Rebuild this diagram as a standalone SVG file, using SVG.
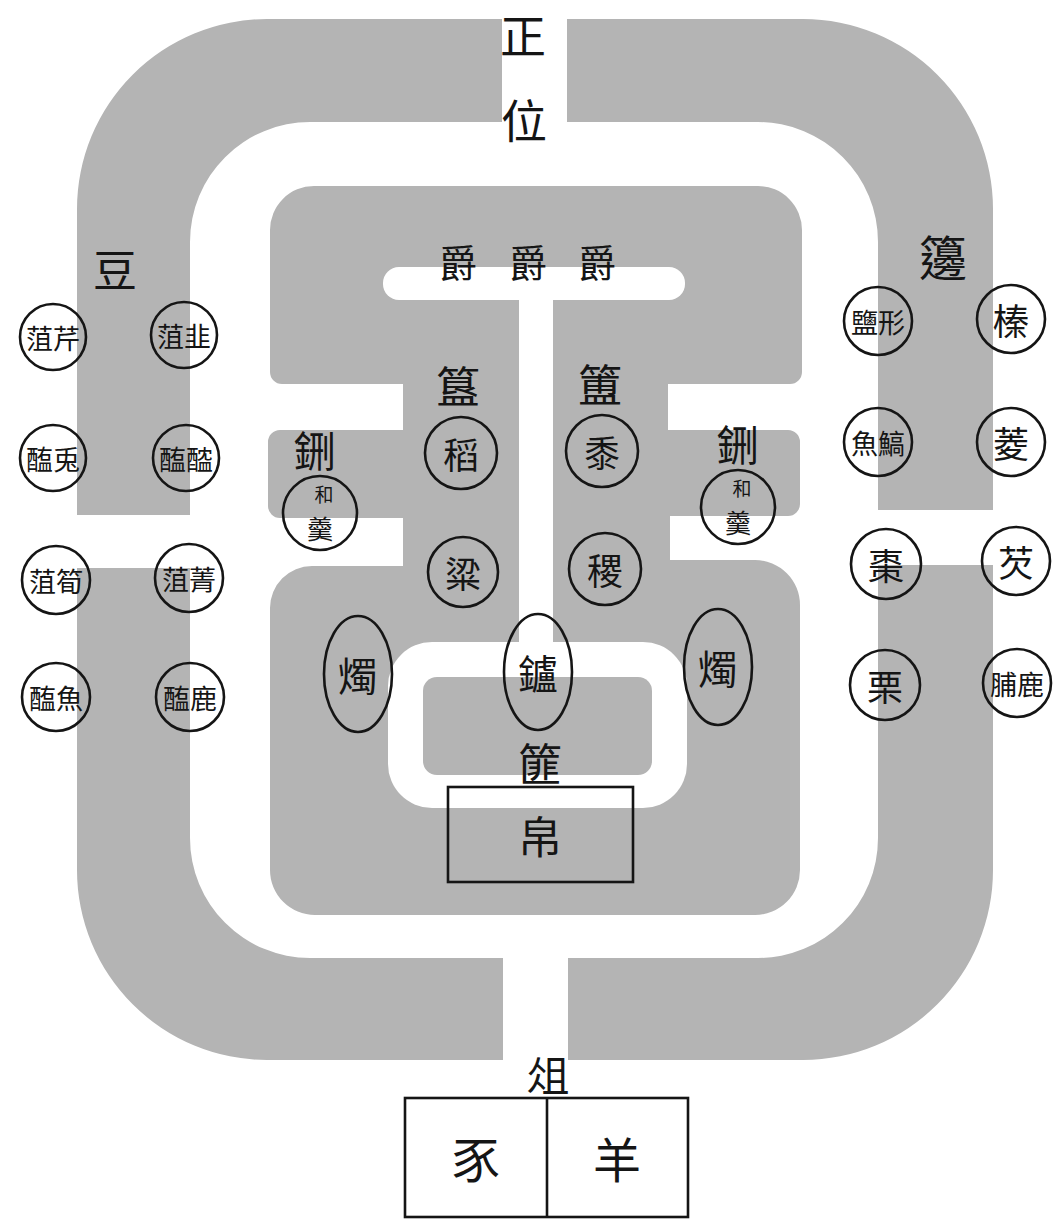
<svg xmlns="http://www.w3.org/2000/svg" width="1056" height="1221" viewBox="0 0 1056 1221">
<style>
.g{fill:#b4b4b4;stroke:none}
.w{fill:#ffffff;stroke:none}
.c{fill:none;stroke:#151515;stroke-width:2.6}
.t{font-family:'Noto Sans CJK TC','Noto Sans CJK SC','Noto Sans CJK JP',sans-serif;fill:#151515;text-anchor:middle;dominant-baseline:central}
.s2{font-size:27px}
.s1{font-size:36px}
.lb{font-size:44px}
</style>
<rect x="0" y="0" width="1056" height="1221" fill="#ffffff"/>
<g id="plan">
  <path class="g" d="M502,19 L267,19 A190,190 0 0 0 77,209 L77,515 L190,515 L190,242 A120,120 0 0 1 310,122 L502,122 Z"/>
  <path class="g" d="M567,19 L803,19 A190,190 0 0 1 993,209 L993,510 L878,510 L878,242 A120,120 0 0 0 758,122 L567,122 Z"/>
  <path class="g" d="M77,568 L77,870 A190,190 0 0 0 267,1060 L503,1060 L503,958 L310,958 A120,120 0 0 1 190,838 L190,568 Z"/>
  <path class="g" d="M993,565 L993,870 A190,190 0 0 1 803,1060 L568,1060 L568,958 L758,958 A120,120 0 0 0 878,838 L878,565 Z"/>
  <path class="g" d="M270,230 A44,44 0 0 1 314,186 L758,186 A44,44 0 0 1 802,230 L802,372 A12,12 0 0 1 790,384 L668,384 L668,430 L788,430 A12,12 0 0 1 800,442 L800,504 A12,12 0 0 1 788,516 L670,516 L670,560 L755,560 A45,45 0 0 1 800,605 L800,870 A45,45 0 0 1 755,915 L315,915 A45,45 0 0 1 270,870 L270,608 A42,42 0 0 1 312,566 L403,566 L403,518 L280,518 A12,12 0 0 1 268,506 L268,442 A12,12 0 0 1 280,430 L403,430 L403,384 L282,384 A12,12 0 0 1 270,372 Z"/>
  <rect class="w" x="383" y="267" width="302" height="33" rx="16"/>
  <rect class="w" x="519" y="290" width="34" height="360"/>
  <rect class="w" x="388" y="642" width="299" height="166" rx="44"/>
  <rect class="g" x="423" y="677" width="229" height="98" rx="14"/>
</g>
<g id="title">
  <text class="t" x="523" y="33" font-size="46">正</text>
  <text class="t" x="524" y="118" font-size="46">位</text>
</g>
<g id="jue">
  <text class="t" x="458" y="260" font-size="38">爵</text>
  <text class="t" x="528" y="260" font-size="38">爵</text>
  <text class="t" x="597" y="260" font-size="38">爵</text>
</g>
<g id="dou">
  <text class="t lb" x="115" y="268">豆</text>
  <g id="dou1"><circle class="c" cx="53" cy="337" r="33"/><text class="t s2" x="53" y="337">菹芹</text></g>
  <g id="dou2"><circle class="c" cx="184" cy="335" r="33"/><text class="t s2" x="184" y="335">菹韭</text></g>
  <g id="dou3"><circle class="c" cx="53" cy="458" r="33"/><text class="t s2" x="53" y="458">醢兎</text></g>
  <g id="dou4"><circle class="c" cx="186" cy="458" r="33"/><text class="t s2" x="186" y="458">醢醓</text></g>
  <g id="dou5"><circle class="c" cx="56" cy="580" r="34"/><text class="t s2" x="56" y="580">菹筍</text></g>
  <g id="dou6"><circle class="c" cx="189" cy="578" r="34"/><text class="t s2" x="189" y="578">菹菁</text></g>
  <g id="dou7"><circle class="c" cx="56" cy="697" r="34"/><text class="t s2" x="56" y="697">醢魚</text></g>
  <g id="dou8"><circle class="c" cx="190" cy="697" r="34"/><text class="t s2" x="190" y="697">醢鹿</text></g>
</g>
<g id="bian">
  <text class="t" x="943" y="255" font-size="48">籩</text>
  <g id="bian1"><circle class="c" cx="878" cy="321" r="34"/><text class="t s2" x="878" y="321">鹽形</text></g>
  <g id="bian2"><circle class="c" cx="1011" cy="319" r="34"/><text class="t s1" x="1011" y="319">榛</text></g>
  <g id="bian3"><circle class="c" cx="878" cy="442" r="34"/><text class="t s2" x="878" y="442">魚鰝</text></g>
  <g id="bian4"><circle class="c" cx="1011" cy="442" r="34"/><text class="t s1" x="1011" y="442">菱</text></g>
  <g id="bian5"><circle class="c" cx="886" cy="564" r="35"/><text class="t s1" x="886" y="564">棗</text></g>
  <g id="bian6"><circle class="c" cx="1016" cy="561" r="34"/><text class="t s1" x="1016" y="561">芡</text></g>
  <g id="bian7"><circle class="c" cx="885" cy="685" r="35"/><text class="t s1" x="885" y="685">栗</text></g>
  <g id="bian8"><circle class="c" cx="1017" cy="683" r="34"/><text class="t s2" x="1017" y="683">脯鹿</text></g>
</g>
<g id="gui">
  <text class="t lb" x="458" y="385">簋</text>
  <g id="dao"><circle class="c" cx="461" cy="453" r="36"/><text class="t s1" x="461" y="453">稻</text></g>
  <g id="liang"><circle class="c" cx="463" cy="572" r="35"/><text class="t s1" x="463" y="572">粱</text></g>
</g>
<g id="fu">
  <text class="t lb" x="600" y="383">簠</text>
  <g id="shu"><circle class="c" cx="602" cy="451" r="36"/><text class="t s1" x="602" y="451">黍</text></g>
  <g id="ji"><circle class="c" cx="605" cy="569" r="36"/><text class="t s1" x="605" y="569">稷</text></g>
</g>
<g id="xing-left">
  <text class="t" x="315" y="448" font-size="42">鉶</text>
  <circle class="c" cx="320" cy="513" r="37"/>
  <text class="t" x="324" y="493" font-size="19">和</text>
  <text class="t" x="320" y="527" font-size="26">羹</text>
</g>
<g id="xing-right">
  <text class="t" x="738" y="442" font-size="42">鉶</text>
  <circle class="c" cx="738" cy="507" r="37"/>
  <text class="t" x="742" y="487" font-size="19">和</text>
  <text class="t" x="738" y="521" font-size="26">羹</text>
</g>
<g id="zhu-left"><ellipse class="c" cx="358" cy="674" rx="34" ry="58"/><text class="t" x="358" y="674" font-size="40">燭</text></g>
<g id="lu"><ellipse class="c" cx="538" cy="672" rx="34" ry="58"/><text class="t" x="538" y="672" font-size="40">鑪</text></g>
<g id="zhu-right"><ellipse class="c" cx="718" cy="667" rx="34" ry="58"/><text class="t" x="718" y="667" font-size="40">燭</text></g>
<g id="fei">
  <text class="t lb" x="540" y="762">篚</text>
  <rect class="c" x="448" y="787" width="185" height="95"/>
  <text class="t lb" x="540" y="835">帛</text>
</g>
<g id="zu">
  <text class="t" x="548" y="1073" font-size="42">俎</text>
  <rect class="c" x="405" y="1098" width="283" height="119"/>
  <line class="c" x1="547" y1="1098" x2="547" y2="1217"/>
  <text class="t" x="476" y="1157" font-size="48">豕</text>
  <text class="t" x="617" y="1157" font-size="48">羊</text>
</g>
<g id="connectors"/>
</svg>
